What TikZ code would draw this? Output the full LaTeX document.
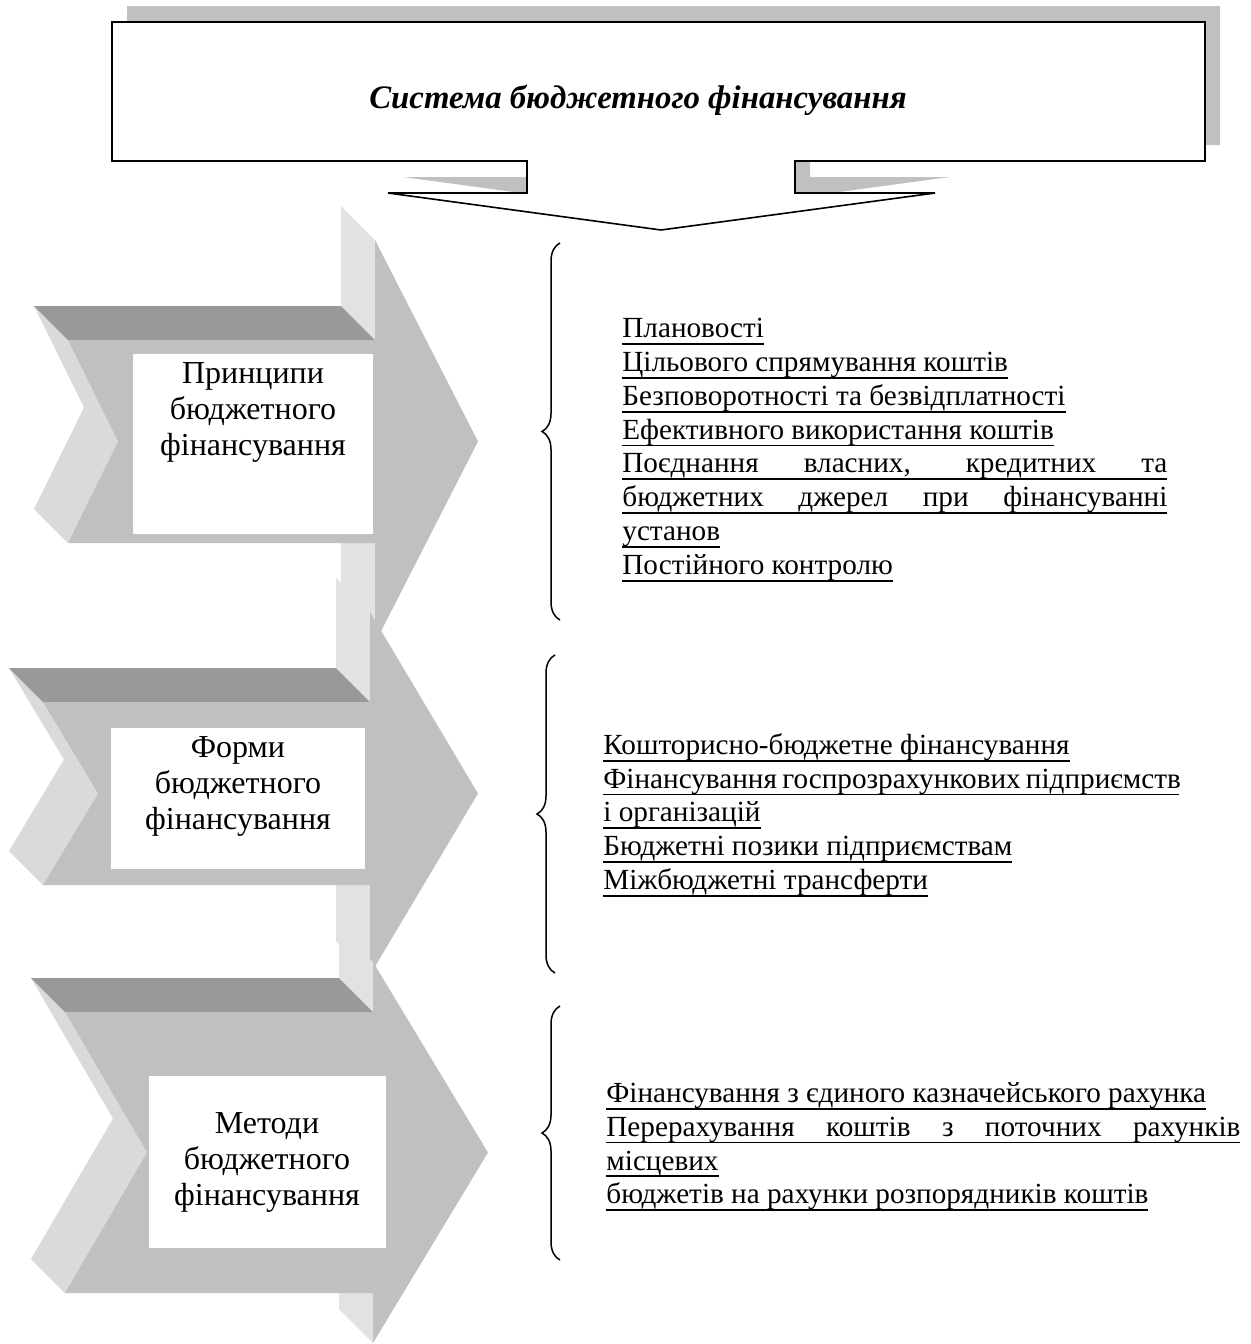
\documentclass[tikz,border=0pt]{standalone}
\usepackage{fontspec}
\setmainfont{Liberation Serif}
\usetikzlibrary{decorations.pathreplacing}
\definecolor{shadowGray}{HTML}{C0C0C0}
\definecolor{faceGray}{HTML}{C0C0C0}
\definecolor{topGray}{HTML}{999999}
\definecolor{sideGray}{HTML}{DADADA}
\definecolor{stripGray}{HTML}{E2E2E2}
% underlined line of text, rule at a fixed depth
\newcommand\ulin[1]{\setbox0=\hbox{#1}\rlap{\rule[-3.6pt]{\wd0}{0.9pt}}\box0}
% justified underlined line
\newcommand\uljust[2]{\ulin{\hbox to #1{\spaceskip=0.18em plus 1fil\relax #2}}}
% 3D chevron: L, notch, head base, tip, shaft top, shaft bottom, head top, head bottom, centre
\newcommand\chevron[9]{%
  \fill[stripGray] (#3-34,#7-34) -- (#3,#7) -- (#3,#5) -- (#3-34,#5-34) -- cycle;
  \fill[stripGray] (#3-34,#6-34) -- (#3,#6) -- (#3,#8) -- (#3-34,#8-34) -- cycle;
  \fill[sideGray] (#1-34,#5-34) -- (#1,#5) -- (#2,#9) -- (#1,#6) -- (#1-34,#6-34)
    -- (#2-34,#9-34) -- cycle;
  \fill[topGray] (#1-34,#5-34) -- (#3-34,#5-34) -- (#3,#5) -- (#1,#5) -- cycle;
  \fill[faceGray] (#1,#5) -- (#3,#5) -- (#3,#7) -- (#4,#9) -- (#3,#8) -- (#3,#6)
    -- (#1,#6) -- (#2,#9) -- cycle;
}
\tikzset{
  title text/.style={font=\fontsize{16.4}{19}\selectfont\bfseries\itshape},
  box text/.style={anchor=north, align=center, inner sep=0pt,
    font=\fontsize{16}{18}\selectfont},
  list text/.style={anchor=north west, align=left, inner sep=0pt,
    font=\fontsize{14.6}{16.9}\selectfont},
  brace/.style={decorate, decoration={brace, amplitude=9pt}, line width=0.75pt}
}

\begin{document}
\begin{tikzpicture}[x=0.5pt, y=-0.5pt]
  \useasboundingbox (0,0) rectangle (1251,1344);

  % callout with shadow
  \def\calloutpath{(112,22) -- (1205,22) -- (1205,161) -- (795,161) -- (795,193)
    -- (935,193) -- (661,230) -- (388,193) -- (527,193) -- (527,161)
    -- (112,161) -- cycle}
  \fill[shadowGray, shift={(15,-16)}] \calloutpath;
  \filldraw[fill=white, draw=black, line width=0.8pt] \calloutpath;
  \node[title text] (title) at (638,100) {Система бюджетного фінансування};

  % chevrons
  \chevron{68}{118}{375}{478}{340}{543}{240}{643}{441.5}
  \chevron{43}{98}{370}{478}{702}{885}{612}{975}{793.5}
  \chevron{65}{147}{373}{488}{1012}{1293}{962}{1343}{1152.5}

  \fill[white] (133,354) rectangle (373,534);
  \fill[white] (111,728) rectangle (365,869);
  \fill[white] (149,1076) rectangle (386,1248);
  \node[box text] (principles) at (253,362)
    {Принципи\\бюджетного\\фінансування};
  \node[box text] (forms) at (238,736)
    {Форми\\бюджетного\\фінансування};
  \node[box text] (methods) at (267,1112)
    {Методи\\бюджетного\\фінансування};

  % braces
  \draw[brace] (560,620) -- (560,243);
  \draw[brace] (555,973) -- (555,655);
  \draw[brace] (560,1260) -- (560,1006);

  \node[list text] (principleslist) at (622,318) {%
    \ulin{Плановості}\\
    \ulin{Цільового спрямування коштів}\\
    \ulin{Безповоротності та безвідплатності}\\
    \ulin{Ефективного використання коштів}\\
    \uljust{272.5pt}{Поєднання власних, кредитних та}\\
    \uljust{272.5pt}{бюджетних джерел при фінансуванні}\\
    \ulin{установ}\\
    \ulin{Постійного контролю}};
  \node[list text] (formslist) at (603,733) {%
    \ulin{Кошторисно-бюджетне фінансування}\\
    \uljust{288pt}{Фінансування госпрозрахункових підприємств}\\
    \ulin{і організацій}\\
    \ulin{Бюджетні позики підприємствам}\\
    \ulin{Міжбюджетні трансферти}};
  \node[list text] (methodslist) at (606,1082) {%
    \ulin{Фінансування з єдиного казначейського рахунка}\\
    \uljust{317pt}{Перерахування коштів з поточних рахунків}\\
    \ulin{місцевих}\\
    \ulin{бюджетів на рахунки розпорядників коштів}};
\end{tikzpicture}
\end{document}
